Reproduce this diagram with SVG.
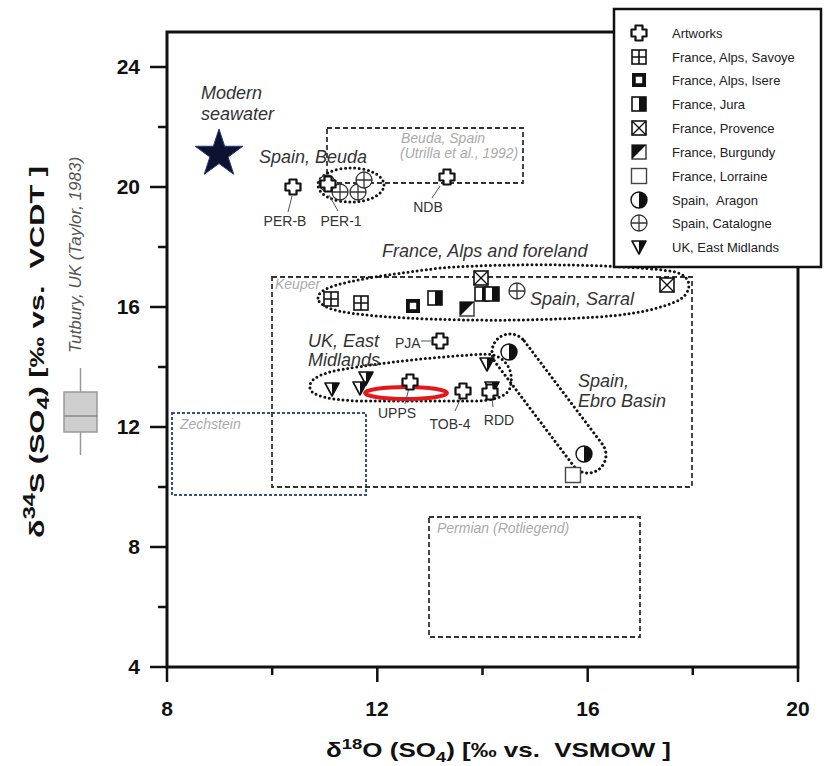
<svg xmlns="http://www.w3.org/2000/svg" width="826" height="766" viewBox="0 0 826 766">
<style>
text{font-family:"Liberation Sans",Arial,sans-serif}
.tick{font-size:21px;font-weight:bold;fill:#111}
.ax{font-size:21px;font-weight:bold;fill:#111}
.lab{font-size:14px;fill:#333}
.it{font-size:18px;font-style:italic;fill:#333}
.gr{font-size:14px;font-style:italic;fill:#aaa}
.tut{font-size:17px;font-style:italic;fill:#555}
.leg{font-size:13px;fill:#222}
.dot{fill:none;stroke:#111;stroke-width:3;stroke-dasharray:0 4.6;stroke-linecap:round}
.box{fill:none;stroke:#333;stroke-width:1.8;stroke-dasharray:5 3}
.lead{stroke:#555;stroke-width:1;fill:none}
.frame{fill:none;stroke:#111;stroke-width:3}
.tk{stroke:#111;stroke-width:2.5}
</style>
<defs>
<g id="s-cross"><path d="M-3.5,-7.5H3.5V-3.5H7.5V3.5H3.5V7.5H-3.5V3.5H-7.5V-3.5H-3.5Z" fill="#fff" stroke="#111" stroke-width="2.2" stroke-linejoin="round"/></g>
<g id="s-savoye"><rect x="-7" y="-7" width="14" height="14" fill="#fff" stroke="#111" stroke-width="1.6"/><path d="M0,-7V7M-7,0H7" stroke="#111" stroke-width="1.6"/></g>
<g id="s-isere"><rect x="-7" y="-7" width="14" height="14" fill="#111"/><rect x="-3.2" y="-3.2" width="6.4" height="6.4" fill="#fff"/></g>
<g id="s-jura"><rect x="-7" y="-7" width="14" height="14" fill="#fff" stroke="#111" stroke-width="1.6"/><rect x="0" y="-7" width="7" height="14" fill="#111"/></g>
<g id="s-provence"><rect x="-7" y="-7" width="14" height="14" fill="#fff" stroke="#111" stroke-width="1.6"/><path d="M-7,-7L7,7M7,-7L-7,7" stroke="#111" stroke-width="1.4"/></g>
<g id="s-burgundy"><rect x="-7" y="-7" width="14" height="14" fill="#fff" stroke="#333" stroke-width="1.4"/><path d="M-7,-7H7L-7,7Z" fill="#111"/></g>
<g id="s-lorraine"><rect x="-7.5" y="-7.5" width="15" height="15" fill="#fff" stroke="#444" stroke-width="1.4"/></g>
<g id="s-aragon"><circle r="8" fill="#fff" stroke="#111" stroke-width="1.4"/><path d="M0,-8A8,8 0 0 1 0,8Z" fill="#111"/></g>
<g id="s-catalogne"><circle r="8" fill="#fff" stroke="#333" stroke-width="1.3"/><path d="M-8,0H8M0,-8V8" stroke="#333" stroke-width="1.3"/></g>
<g id="s-uk"><path d="M-7,-6H7L0,7Z" fill="#fff" stroke="#111" stroke-width="1.6" stroke-linejoin="round"/><path d="M0,-6H7L0,7Z" fill="#111"/></g>
</defs>
<rect width="826" height="766" fill="#fff"/>

<g id="axes">
<rect class="frame" x="167" y="32" width="631" height="635"/>
<path class="tk" d="M150,667H167M150,547H167M150,427H167M150,307H167M150,187H167M150,67H167M158,607H167M158,487H167M158,367H167M158,247H167M158,127H167"/>
<path class="tk" d="M167,667V682M377.3,667V682M587.7,667V682M798,667V682M272.2,667V675M482.5,667V675M692.8,667V675"/>
<g class="tick" text-anchor="end">
<text x="140" y="674">4</text><text x="140" y="554">8</text><text x="140" y="434">12</text><text x="140" y="314">16</text><text x="140" y="194">20</text><text x="140" y="74">24</text>
</g>
<g class="tick" text-anchor="middle">
<text x="167" y="716">8</text><text x="377" y="716">12</text><text x="588" y="716">16</text><text x="798" y="716">20</text>
</g>
<text class="ax" x="326" y="757" textLength="345" lengthAdjust="spacingAndGlyphs">δ<tspan dy="-8" font-size="15">18</tspan><tspan dy="8">O (SO</tspan><tspan dy="5" font-size="15">4</tspan><tspan dy="-5">) [‰ vs. &#160;VSMOW ]</tspan></text>
<text class="ax" transform="translate(44,352) rotate(-90)" x="-186" y="0" font-size="24" textLength="372" lengthAdjust="spacingAndGlyphs">δ<tspan dy="-9" font-size="16">34</tspan><tspan dy="9">S (SO</tspan><tspan dy="5" font-size="16">4</tspan><tspan dy="-5">) [‰ vs. &#160;VCDT ]</tspan></text>
</g>

<g id="tutbury">
<path d="M80.5,368V392M80.5,432V455" stroke="#999" stroke-width="1.5"/>
<rect x="64" y="392" width="33" height="40" fill="#cfcfcf" stroke="#999" stroke-width="1.5"/>
<path d="M64,416H97" stroke="#888" stroke-width="1.5"/>
<text class="tut" transform="translate(81,255) rotate(-90)" text-anchor="middle">Tutbury, UK (Taylor, 1983)</text>
</g>

<g id="fields">
<g id="zechstein"><rect x="172" y="413" width="194" height="82" fill="none" stroke="#3a4f80" stroke-width="2" stroke-dasharray="3 2"/><text class="gr" x="180" y="429" font-size="13">Zechstein</text></g>
<g id="keuper"><rect class="box" x="272" y="277" width="420" height="210"/><text class="gr" x="275" y="289" font-size="13">Keuper</text></g>
<g id="beuda-box"><rect class="box" x="327" y="128" width="196" height="55"/><text class="gr" x="401" y="143">Beuda, Spain</text><text class="gr" x="400" y="158">(Utrilla et al., 1992)</text></g>
<g id="permian"><rect class="box" x="429" y="517" width="211" height="120" stroke-width="2.2"/><text class="gr" x="437" y="533">Permian (Rotliegend)</text></g>
</g>

<g id="groups">
<ellipse class="dot" cx="351" cy="185" rx="33" ry="17"/>
<path class="dot" d="M318,298C318,285 360,278 440,268C520,262 640,265 675,272C695,277 692,295 675,302C640,316 600,318 520,320C440,321 360,317 335,310C322,306 318,302 318,298Z"/>
<path class="dot" d="M310,388C308,378 325,372 345,369C380,363 440,356 488,354C505,356 515,370 510,388C506,398 490,401 470,401L360,401C330,400 311,396 310,388Z"/>
<rect class="dot" x="-82.6" y="-18" width="165.2" height="36" rx="18" transform="translate(549,403.5) rotate(52.9)"/>
<ellipse cx="406" cy="393" rx="41" ry="6" fill="none" stroke="#e3181c" stroke-width="4"/>
</g>

<g id="leaders">
<path class="lead" d="M292,196L288,212M329,195L338,211M440,186L432,198M421,341H431M409,388L405,404M461,398L455,411M492,399L493,407"/>
</g>

<g id="seawater">
<path d="M219,129L224.64,146.23L242.78,146.27L228.13,156.97L233.69,174.23L219,163.6L204.31,174.23L209.87,156.97L195.22,146.27L213.36,146.23Z" fill="#0d1230" stroke="#23357a" stroke-width="1"/>
<text class="it" x="201" y="99" font-size="17">Modern</text>
<text class="it" x="201" y="120" font-size="17">seawater</text>
</g>

<g id="beuda">
<use href="#s-catalogne" x="327" y="183"/>
<use href="#s-catalogne" x="340" y="192"/>
<use href="#s-catalogne" x="358" y="192"/>
<use href="#s-catalogne" x="364" y="180"/>
<use href="#s-cross" x="293" y="187"/>
<use href="#s-cross" x="328" y="184"/>
<use href="#s-cross" x="447" y="177"/>
<text class="it" x="259" y="163">Spain, Beuda</text>
<text class="lab" x="285" y="226" text-anchor="middle">PER-B</text>
<text class="lab" x="341" y="226" text-anchor="middle">PER-1</text>
<text class="lab" x="428" y="212" text-anchor="middle">NDB</text>
</g>

<g id="france">
<use href="#s-savoye" x="331" y="299"/>
<use href="#s-savoye" x="361" y="303"/>
<use href="#s-isere" x="413" y="306"/>
<use href="#s-jura" x="435" y="298"/>
<use href="#s-provence" x="481" y="278"/>
<use href="#s-jura" x="482" y="294"/>
<use href="#s-jura" x="492" y="294"/>
<use href="#s-burgundy" x="467" y="309"/>
<use href="#s-provence" x="667" y="285"/>
<use href="#s-catalogne" x="517" y="291"/>
<text class="it" x="382" y="257">France, Alps and foreland</text>
<text class="it" x="530" y="305">Spain, Sarral</text>
</g>

<g id="uk">
<use href="#s-uk" x="332" y="389"/>
<use href="#s-uk" x="366" y="378"/>
<use href="#s-uk" x="360" y="388"/>
<use href="#s-uk" x="487" y="364"/>
<use href="#s-uk" x="492" y="388"/>
<use href="#s-cross" x="440" y="341"/>
<use href="#s-cross" x="410" y="382"/>
<use href="#s-cross" x="463" y="391"/>
<use href="#s-cross" x="490" y="392"/>
<text class="it" x="308" y="347" font-size="16.5">UK, East</text>
<text class="it" x="308" y="366" font-size="16.5">Midlands</text>
<text class="lab" x="395" y="348">PJA</text>
<text class="lab" x="397" y="418" text-anchor="middle">UPPS</text>
<text class="lab" x="450" y="429" text-anchor="middle">TOB-4</text>
<text class="lab" x="499" y="425" text-anchor="middle">RDD</text>
</g>

<g id="ebro">
<use href="#s-aragon" x="509" y="352"/>
<use href="#s-aragon" x="584" y="454"/>
<use href="#s-lorraine" x="573" y="475"/>
<text class="it" x="578" y="387">Spain,</text>
<text class="it" x="578" y="407">Ebro Basin</text>
</g>

<g id="legend">
<rect x="614" y="9" width="207" height="258" fill="#fff" stroke="#111" stroke-width="2.5"/>
<use href="#s-cross" x="639" y="33"/>
<use href="#s-savoye" x="639" y="57"/>
<use href="#s-isere" x="639" y="80"/>
<use href="#s-jura" x="639" y="104"/>
<use href="#s-provence" x="639" y="128"/>
<use href="#s-burgundy" x="639" y="152"/>
<use href="#s-lorraine" x="639" y="176"/>
<use href="#s-aragon" x="639" y="200"/>
<use href="#s-catalogne" x="639" y="223"/>
<use href="#s-uk" x="639" y="247"/>
<g class="leg">
<text x="672" y="38">Artworks</text>
<text x="672" y="62">France, Alps, Savoye</text>
<text x="672" y="85">France, Alps, Isere</text>
<text x="672" y="109">France, Jura</text>
<text x="672" y="133">France, Provence</text>
<text x="672" y="157">France, Burgundy</text>
<text x="672" y="181">France, Lorraine</text>
<text x="672" y="205">Spain, &#160;Aragon</text>
<text x="672" y="228">Spain, Catalogne</text>
<text x="672" y="252">UK, East Midlands</text>
</g>
</g>
</svg>
